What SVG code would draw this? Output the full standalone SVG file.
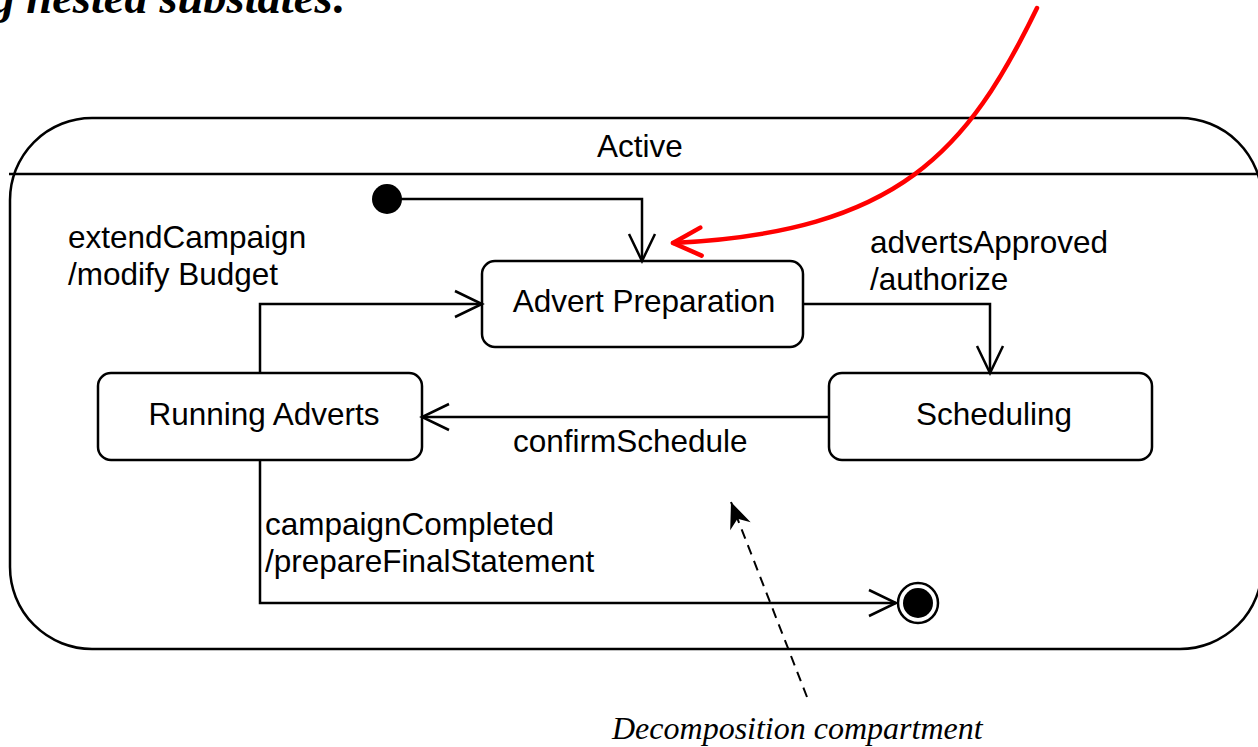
<svg xmlns="http://www.w3.org/2000/svg" width="1258" height="747" viewBox="0 0 1258 747">
<style>
.lbl{font-family:"Liberation Sans",Arial,sans-serif;font-size:31.5px;fill:#000}
.st{fill:#fff;stroke:#000;stroke-width:2.5}
.conn{fill:none;stroke:#000;stroke-width:2.5}
.note{font-family:"Liberation Serif","Times New Roman",serif;font-style:italic;font-size:32px;fill:#000}
.title{font-family:"Liberation Serif","Times New Roman",serif;font-style:italic;font-weight:bold;font-size:46.5px;fill:#000}
</style>
<defs>
<marker id="open" viewBox="-30 -16 34 32" refX="0" refY="0" markerWidth="34" markerHeight="32" markerUnits="userSpaceOnUse" orient="auto" overflow="visible">
<path d="M-27,-13 L0,0 L-27,13" fill="none" stroke="#000" stroke-width="2.5"/>
</marker>
<marker id="redopen" viewBox="-32 -18 36 36" refX="0" refY="0" markerWidth="36" markerHeight="36" markerUnits="userSpaceOnUse" orient="auto" overflow="visible">
<path d="M-28,-14 L0,0 L-28,14" fill="none" stroke="#f00" stroke-width="4.5" stroke-linecap="round" stroke-linejoin="round"/>
</marker>
<marker id="barb" viewBox="-28 -14 32 28" refX="0" refY="0" markerWidth="32" markerHeight="28" markerUnits="userSpaceOnUse" orient="auto" overflow="visible">
<path d="M0,0 L-26,-11 L-18,0 L-26,11 Z" fill="#000"/>
</marker>
</defs>

<text class="title" x="348" y="13" text-anchor="end">g nested substates:</text>

<g id="active">
<rect class="st" x="10" y="118" width="1252" height="531" rx="82" ry="82"/>
<line x1="9" y1="174" x2="1258" y2="174" stroke="#000" stroke-width="2.5"/>
<text class="lbl" x="640" y="157" text-anchor="middle">Active</text>
</g>

<g id="initial">
<circle cx="387" cy="199" r="15" fill="#000"/>
</g>

<g id="advertPreparation">
<rect class="st" x="482" y="261" width="321" height="86" rx="13" ry="13"/>
<text class="lbl" x="644" y="312" text-anchor="middle">Advert Preparation</text>
</g>

<g id="runningAdverts">
<rect class="st" x="98" y="373" width="324" height="87" rx="13" ry="13"/>
<text class="lbl" x="264" y="425" text-anchor="middle">Running Adverts</text>
</g>

<g id="scheduling">
<rect class="st" x="829" y="373" width="323" height="87" rx="13" ry="13"/>
<text class="lbl" x="994" y="425" text-anchor="middle">Scheduling</text>
</g>

<g id="final">
<circle cx="918" cy="603" r="20" fill="#fff" stroke="#000" stroke-width="2.5"/>
<circle cx="918" cy="603" r="15" fill="#000"/>
</g>

<g id="connectors">
<path class="conn" d="M387,199 H642 V261" marker-end="url(#open)"/>
<path class="conn" d="M803,304 H990 V373" marker-end="url(#open)"/>
<path class="conn" d="M829,417 H422" marker-end="url(#open)"/>
<path class="conn" d="M260,373 V304 H482" marker-end="url(#open)"/>
<path class="conn" d="M260,460 V603 H896" marker-end="url(#open)"/>
<path d="M1037,8 C968,150 900,232 673,243" fill="none" stroke="#f00" stroke-width="4.5" stroke-linecap="round" marker-end="url(#redopen)"/>
<path d="M807,697 L731,502" fill="none" stroke="#000" stroke-width="2" stroke-dasharray="10,7" marker-end="url(#barb)"/>
</g>

<g id="labels">
<text class="lbl" x="68" y="248">extendCampaign</text>
<text class="lbl" x="68" y="285">/modify Budget</text>
<text class="lbl" x="870" y="253">advertsApproved</text>
<text class="lbl" x="870" y="290">/authorize</text>
<text class="lbl" x="513" y="452">confirmSchedule</text>
<text class="lbl" x="265" y="535">campaignCompleted</text>
<text class="lbl" x="265" y="572">/prepareFinalStatement</text>
<text class="note" x="612" y="739">Decomposition compartment</text>
</g>
</svg>
